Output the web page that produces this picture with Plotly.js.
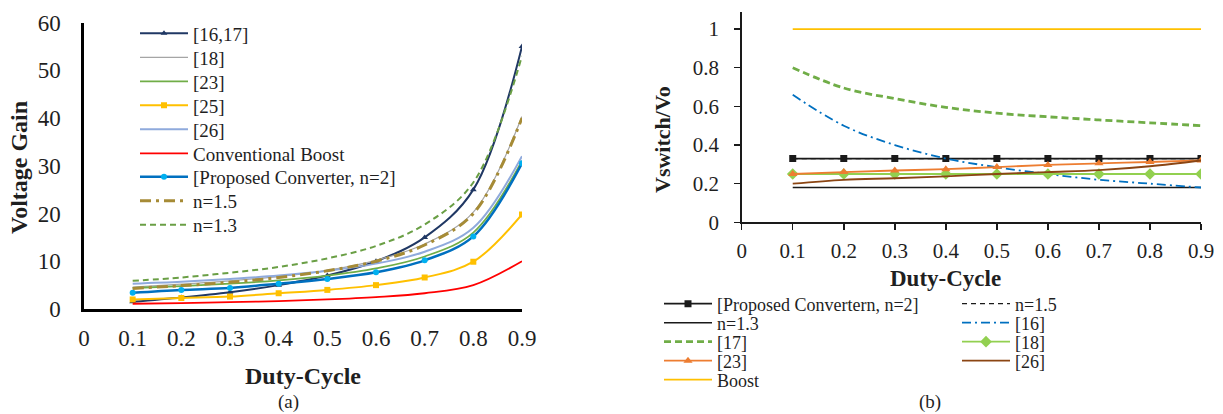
<!DOCTYPE html>
<html>
<head>
<meta charset="utf-8">
<script src="https://cdn.plot.ly/plotly-3.0.1.min.js"></script>
<style>html,body{margin:0;padding:0;background:#fff}#chart{width:1223px;height:414px}</style>
</head>
<body>
<div id="chart"></div>
<script>
// ---------- data ----------
const dutyCycle = [0.1, 0.2, 0.3, 0.4, 0.5, 0.6, 0.7, 0.8, 0.9];
const xTickVals = [0, 0.1, 0.2, 0.3, 0.4, 0.5, 0.6, 0.7, 0.8, 0.9];
const xTickText = ["0", "0.1", "0.2", "0.3", "0.4", "0.5", "0.6", "0.7", "0.8", "0.9"];
const gainTickVals = [0, 10, 20, 30, 40, 50, 60];
const vsTickVals = [0, 0.2, 0.4, 0.6, 0.8, 1];
const vsTickText = ["0", "0.2", "0.4", "0.6", "0.8", "1"];

// (a) Voltage gain
const gain_16_17   = [1.5, 2.4, 3.5, 5.0, 7.0, 10.0, 15.0, 25.0, 55.0];
const gain_18      = [4.6, 5.2, 5.9, 6.8, 8.1, 10.2, 13.6, 20.3, 40.3];
const gain_23      = [4.4, 4.8, 5.3, 6.0, 7.0, 8.5, 11.0, 16.0, 31.0];
const gain_25      = [2.0, 2.3, 2.6, 3.3, 4.0, 5.0, 6.6, 9.9, 19.8];
const gain_26      = [5.3, 5.7, 6.3, 7.0, 8.0, 9.5, 12.0, 17.0, 32.0];
const gain_boost   = [1.1, 1.25, 1.45, 1.65, 2.0, 2.5, 3.3, 5.0, 10.0];
const gain_prop    = [3.4, 4.0, 4.4, 5.3, 6.3, 7.7, 10.2, 15.2, 30.5];
const gain_n15     = [4.3, 4.9, 5.6, 6.6, 8.0, 10.0, 13.4, 20.0, 40.0];
const gain_n13     = [5.9, 6.6, 7.6, 8.8, 10.6, 13.2, 17.7, 26.5, 53.0];

// (b) Vswitch/Vo
const vs_prop  = [0.33, 0.33, 0.33, 0.33, 0.33, 0.33, 0.33, 0.33, 0.33];
const vs_n15   = [0.33, 0.33, 0.33, 0.33, 0.33, 0.33, 0.33, 0.33, 0.33];
const vs_n13   = [0.18, 0.18, 0.18, 0.18, 0.18, 0.18, 0.18, 0.18, 0.18];
const vs_16    = [0.66, 0.5, 0.4, 0.33, 0.285, 0.25, 0.22, 0.2, 0.18];
const vs_17    = [0.8, 0.695, 0.64, 0.595, 0.565, 0.546, 0.53, 0.515, 0.5];
const vs_18    = [0.25, 0.25, 0.25, 0.25, 0.25, 0.25, 0.25, 0.25, 0.25];
const vs_23    = [0.25, 0.26, 0.268, 0.275, 0.286, 0.297, 0.305, 0.312, 0.32];
const vs_26    = [0.2, 0.22, 0.228, 0.238, 0.25, 0.26, 0.27, 0.29, 0.32];
const vs_boost = [1, 1, 1, 1, 1, 1, 1, 1, 1];

// ---------- layout helpers ----------
const W = 1223, H = 414;
const fx = p => p / W;
const fy = p => 1 - p / H;
const FONT = 'Liberation Serif, Times New Roman, serif';
const TXT = '#1F1F1F';

const traces = [];
const legends = {};
let legendCount = 0;
function addTrace(t, legendTextLeft, rowY, fontSize, itemW) {
  legendCount += 1;
  const key = legendCount === 1 ? 'legend' : 'legend' + legendCount;
  t.legend = key;
  t.showlegend = true;
  t.hoverinfo = 'skip';
  traces.push(t);
  legends[key] = {
    x: fx(legendTextLeft - itemW - 10), y: fy(rowY), xanchor: 'left', yanchor: 'middle',
    bgcolor: 'rgba(0,0,0,0)', borderwidth: 0, itemwidth: itemW,
    font: {family: FONT, size: fontSize, color: TXT}, itemclick: false, itemdoubleclick: false
  };
}

// (a) traces
const LA = {text: 193, f: 19, w: 48};
const rowsA = [33.3, 57.5, 81.5, 105.5, 129.5, 153.5, 177, 201, 225];
const sA = {x: dutyCycle, xaxis: 'x', yaxis: 'y', type: 'scatter'};
addTrace({...sA, y: gain_16_17, name: '[16,17]', mode: 'lines+markers',
  line: {color: '#203864', width: 2, shape: 'spline'}, marker: {symbol: 'triangle-up', size: 6, color: '#203864'}}, LA.text, rowsA[0], LA.f, LA.w);
addTrace({...sA, y: gain_18, name: '[18]', mode: 'lines',
  line: {color: '#A5A5A5', width: 1.2, shape: 'spline'}}, LA.text, rowsA[1], LA.f, LA.w);
addTrace({...sA, y: gain_23, name: '[23]', mode: 'lines',
  line: {color: '#70AD47', width: 1.8, shape: 'spline'}}, LA.text, rowsA[2], LA.f, LA.w);
addTrace({...sA, y: gain_25, name: '[25]', mode: 'lines+markers',
  line: {color: '#FFC000', width: 2, shape: 'spline'}, marker: {symbol: 'square', size: 6, color: '#FFC000'}}, LA.text, rowsA[3], LA.f, LA.w);
addTrace({...sA, y: gain_26, name: '[26]', mode: 'lines',
  line: {color: '#8FAADC', width: 2, shape: 'spline'}}, LA.text, rowsA[4], LA.f, LA.w);
addTrace({...sA, y: gain_boost, name: 'Conventional Boost', mode: 'lines',
  line: {color: '#FF0000', width: 1.8, shape: 'spline'}}, LA.text, rowsA[5], LA.f, LA.w);
addTrace({...sA, y: gain_prop, name: '[Proposed Converter, n=2]', mode: 'lines+markers',
  line: {color: '#0070C0', width: 2.5, shape: 'spline'}, marker: {symbol: 'circle', size: 6, color: '#00B0F0'}}, LA.text, rowsA[6], LA.f, LA.w);
addTrace({...sA, y: gain_n15, name: 'n=1.5', mode: 'lines',
  line: {color: '#A68B36', width: 3, shape: 'spline', dash: '11px,5px,3px,5px'}}, LA.text, rowsA[7], LA.f, LA.w);
addTrace({...sA, y: gain_n13, name: 'n=1.3', mode: 'lines',
  line: {color: '#6A9F45', width: 2, shape: 'spline', dash: '6px,4px'}}, LA.text, rowsA[8], LA.f, LA.w);

// (b) traces
const LB1 = {text: 717, f: 18, w: 48};
const LB2 = {text: 1015, f: 18, w: 48};
const rowsB = [304, 323, 342, 361, 380];
const sB = {x: dutyCycle, xaxis: 'x2', yaxis: 'y2', type: 'scatter'};
addTrace({...sB, y: vs_prop, name: '[Proposed Convertern, n=2]', mode: 'lines+markers',
  line: {color: '#1A1A1A', width: 1.8}, marker: {symbol: 'square', size: 7, color: '#1A1A1A'}}, LB1.text, rowsB[0], LB1.f, LB1.w);
addTrace({...sB, y: vs_n15, name: 'n=1.5', mode: 'lines',
  line: {color: '#1A1A1A', width: 1.2, dash: '5px,4px'}}, LB2.text, rowsB[0], LB2.f, LB2.w);
addTrace({...sB, y: vs_n13, name: 'n=1.3', mode: 'lines',
  line: {color: '#1A1A1A', width: 1.5}}, LB1.text, rowsB[1], LB1.f, LB1.w);
addTrace({...sB, y: vs_16, name: '[16]', mode: 'lines',
  line: {color: '#0070C0', width: 1.8, shape: 'spline', dash: '9px,4px,2px,4px'}}, LB2.text, rowsB[1], LB2.f, LB2.w);
addTrace({...sB, y: vs_17, name: '[17]', mode: 'lines',
  line: {color: '#70AD47', width: 2.8, shape: 'spline', dash: '7px,4px'}}, LB1.text, rowsB[2], LB1.f, LB1.w);
addTrace({...sB, y: vs_18, name: '[18]', mode: 'lines+markers',
  line: {color: '#92D050', width: 1.8}, marker: {symbol: 'diamond', size: 9, color: '#92D050'}}, LB2.text, rowsB[2], LB2.f, LB2.w);
addTrace({...sB, y: vs_23, name: '[23]', mode: 'lines+markers',
  line: {color: '#ED7D31', width: 1.8, shape: 'spline'}, marker: {symbol: 'triangle-up', size: 8, color: '#ED7D31'}}, LB1.text, rowsB[3], LB1.f, LB1.w);
addTrace({...sB, y: vs_26, name: '[26]', mode: 'lines',
  line: {color: '#8B4513', width: 1.8, shape: 'spline'}}, LB2.text, rowsB[3], LB2.f, LB2.w);
addTrace({...sB, y: vs_boost, name: 'Boost', mode: 'lines',
  line: {color: '#FFC000', width: 1.8}}, LB1.text, rowsB[4], LB1.f, LB1.w);

const layout = Object.assign({
  width: W, height: H,
  margin: {l: 0, r: 0, t: 0, b: 0},
  paper_bgcolor: '#fff', plot_bgcolor: 'rgba(0,0,0,0)',
  font: {family: FONT, color: TXT},
  showlegend: true,
  hovermode: false,
  xaxis: {
    domain: [fx(84), fx(522)], range: [0, 0.9], anchor: 'y',
    tickvals: xTickVals, ticktext: xTickText, ticks: '', showgrid: false, zeroline: false,
    showline: true, linecolor: '#000', linewidth: 2.7, tickfont: {family: FONT, size: 23, color: TXT},
    ticklabelstandoff: 7, fixedrange: true
  },
  yaxis: {
    domain: [fy(309), fy(22.5)], range: [0, 60], anchor: 'x',
    tickvals: gainTickVals, ticks: '', showgrid: false, zeroline: false,
    showline: true, linecolor: '#000', linewidth: 2.7, tickfont: {family: FONT, size: 23, color: TXT},
    ticklabelstandoff: 16, fixedrange: true
  },
  xaxis2: {
    domain: [fx(741.7), fx(1201)], range: [0, 0.9], anchor: 'y2',
    tickvals: xTickVals, ticktext: xTickText, ticks: 'outside', ticklen: 6, tickwidth: 1.5, tickcolor: '#1A1A1A',
    showgrid: false, zeroline: false, showline: true, linecolor: '#1A1A1A', linewidth: 1.5,
    tickfont: {family: FONT, size: 21, color: TXT}, ticklabelstandoff: 3, fixedrange: true
  },
  yaxis2: {
    domain: [fy(222.3), fy(11.7)], range: [0, 1.09], anchor: 'x2',
    tickvals: vsTickVals, ticktext: vsTickText, ticks: 'outside', ticklen: 6, tickwidth: 1.5, tickcolor: '#1A1A1A',
    showgrid: false, zeroline: false, showline: true, linecolor: '#1A1A1A', linewidth: 1.5,
    tickfont: {family: FONT, size: 21, color: TXT}, ticklabelstandoff: 11, fixedrange: true
  },
  annotations: [
    {text: '<b>Voltage Gain</b>', textangle: -90, x: fx(19), y: fy(168), xref: 'paper', yref: 'paper',
     showarrow: false, font: {family: FONT, size: 24, color: TXT}, xanchor: 'center', yanchor: 'middle'},
    {text: '<b>Duty-Cycle</b>', x: fx(303), y: fy(376), xref: 'paper', yref: 'paper',
     showarrow: false, font: {family: FONT, size: 24, color: TXT}, xanchor: 'center', yanchor: 'middle'},
    {text: '(a)', x: fx(288), y: fy(402), xref: 'paper', yref: 'paper',
     showarrow: false, font: {family: FONT, size: 19, color: TXT}, xanchor: 'center', yanchor: 'middle'},
    {text: '<b>Vswitch/Vo</b>', textangle: -90, x: fx(663), y: fy(139), xref: 'paper', yref: 'paper',
     showarrow: false, font: {family: FONT, size: 22, color: TXT}, xanchor: 'center', yanchor: 'middle'},
    {text: '<b>Duty-Cycle</b>', x: fx(945), y: fy(278), xref: 'paper', yref: 'paper',
     showarrow: false, font: {family: FONT, size: 23, color: TXT}, xanchor: 'center', yanchor: 'middle'},
    {text: '(b)', x: fx(930), y: fy(402), xref: 'paper', yref: 'paper',
     showarrow: false, font: {family: FONT, size: 19, color: TXT}, xanchor: 'center', yanchor: 'middle'}
  ]
}, legends);

Plotly.newPlot('chart', traces, layout, {displayModeBar: false, staticPlot: true});
</script>
</body>
</html>
